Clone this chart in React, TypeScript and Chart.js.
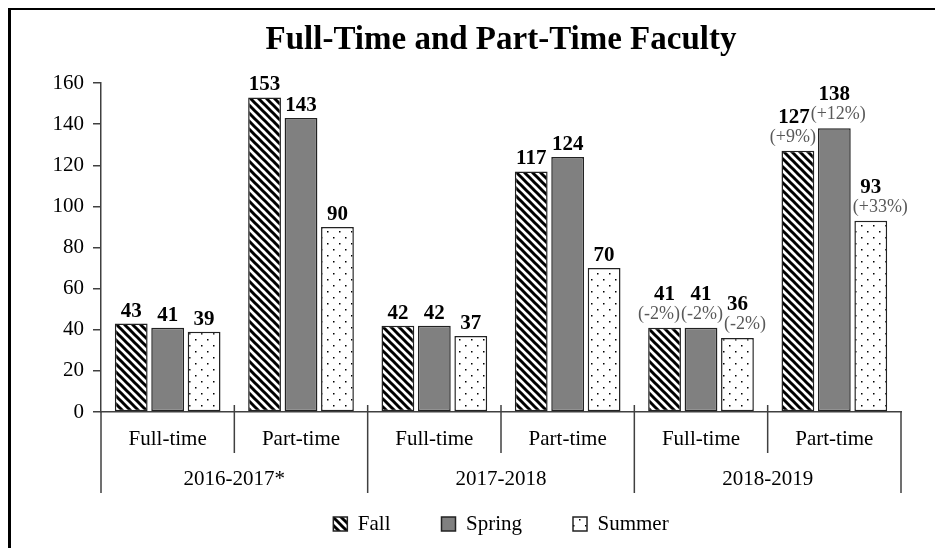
import React, { useEffect, useRef } from 'react';
import { Chart, registerables } from 'chart.js';

Chart.register(...registerables);

const subCategories = ['Full-time', 'Part-time', 'Full-time', 'Part-time', 'Full-time', 'Part-time'];
const yearGroups = ['2016-2017*', '2017-2018', '2018-2019'];
const fallValues = [43, 153, 42, 117, 41, 127];
const springValues = [41, 143, 42, 124, 41, 138];
const summerValues = [39, 90, 37, 70, 36, 93];
const fallChange = ['', '', '', '', '(-2%)', '(+9%)'];
const springChange = ['', '', '', '', '(-2%)', '(+12%)'];
const summerChange = ['', '', '', '', '(-2%)', '(+33%)'];
const seriesNames = ['Fall', 'Spring', 'Summer'];
const yMin = 0;
const yMax = 160;
const yStep = 20;

const FONT = '"Liberation Serif", "Times New Roman", serif';
const LEGEND_GAP = '\u00A0\u00A0\u00A0\u00A0\u00A0\u00A0';

function makeStripePattern(ctx: CanvasRenderingContext2D): CanvasPattern | string {
  const c = document.createElement('canvas');
  c.width = 8;
  c.height = 8;
  const g = c.getContext('2d');
  if (!g) return '#000';
  g.fillStyle = '#fff';
  g.fillRect(0, 0, 8, 8);
  g.strokeStyle = '#000';
  g.lineWidth = 3;
  for (const x0 of [-8, 0, 8]) {
    g.beginPath();
    g.moveTo(x0 - 2, -2);
    g.lineTo(x0 + 10, 10);
    g.stroke();
  }
  return ctx.createPattern(c, 'repeat') || '#000';
}

function makeDotPattern(ctx: CanvasRenderingContext2D): CanvasPattern | string {
  const c = document.createElement('canvas');
  c.width = 12;
  c.height = 12;
  const g = c.getContext('2d');
  if (!g) return '#fff';
  g.fillStyle = '#fff';
  g.fillRect(0, 0, 12, 12);
  g.fillStyle = '#000';
  g.fillRect(3, 3, 1.5, 1.5);
  g.fillRect(9, 9, 1.5, 1.5);
  return ctx.createPattern(c, 'repeat') || '#fff';
}

const changeLabels = [fallChange, springChange, summerChange];

type Lbl = { text: string; x: number; y: number; font: string; color: string; w: number; di: number; i: number };

const valueLabelPlugin = {
  id: 'valueLabels',
  afterDatasetsDraw(chart: any) {
    const ctx: CanvasRenderingContext2D = chart.ctx;
    const labels: Lbl[] = [];
    const bars: { di: number; i: number; left: number; right: number; top: number }[] = [];
    const valueFont = `bold 21px ${FONT}`;
    const changeFont = `18px ${FONT}`;
    chart.data.datasets.forEach((ds: any, di: number) => {
      const meta = chart.getDatasetMeta(di);
      meta.data.forEach((bar: any, i: number) => {
        bars.push({ di, i, left: bar.x - bar.width / 2, right: bar.x + bar.width / 2, top: bar.y });
        const v = ds.data[i];
        const change = changeLabels[di][i];
        let y = bar.y - 7;
        if (change) {
          y = bar.y - 9;
          ctx.font = changeFont;
          labels.push({ text: change, x: bar.x, y, font: changeFont, color: '#595959', w: ctx.measureText(change).width, di, i });
          y -= 19;
        }
        ctx.font = valueFont;
        const t = String(v);
        labels.push({ text: t, x: bar.x, y, font: valueFont, color: '#000', w: ctx.measureText(t).width, di, i });
      });
    });
    // keep labels clear of neighbouring bars
    for (const l of labels) {
      for (const b of bars) {
        if (b.di === l.di && b.i === l.i) continue;
        if (l.y + 4 <= b.top) continue;
        const lLeft = l.x - l.w / 2;
        const lRight = l.x + l.w / 2;
        if (lRight > b.left && lLeft < b.right) {
          if (l.x < (b.left + b.right) / 2) l.x -= lRight - b.left + 2;
          else l.x += b.right - lLeft + 2;
        }
      }
    }
    // simple collision avoidance between neighbouring labels on the same line
    for (let iter = 0; iter < 6; iter++) {
      for (let a = 0; a < labels.length; a++) {
        for (let b = 0; b < labels.length; b++) {
          if (a === b) continue;
          const A = labels[a];
          const B = labels[b];
          if (A.x > B.x || (A.x === B.x && a > b)) continue;
          if (Math.abs(A.y - B.y) >= 14) continue;
          const overlap = A.x + A.w / 2 - (B.x - B.w / 2) + 1;
          if (overlap > 0) {
            A.x -= overlap / 2;
            B.x += overlap / 2;
          }
        }
      }
    }
    ctx.save();
    ctx.textAlign = 'center';
    ctx.textBaseline = 'alphabetic';
    for (const l of labels) {
      ctx.font = l.font;
      ctx.fillStyle = l.color;
      ctx.fillText(l.text, l.x, l.y);
    }
    ctx.restore();
  },
};

const separatorPlugin = {
  id: 'groupSeparators',
  afterDraw(chart: any) {
    const ctx: CanvasRenderingContext2D = chart.ctx;
    const xs = chart.scales.x;
    const x2 = chart.scales.x2;
    const area = chart.chartArea;
    const n = subCategories.length;
    const perGroup = n / yearGroups.length;
    ctx.save();
    ctx.strokeStyle = '#404040';
    ctx.lineWidth = 1.5;
    for (let i = 0; i <= n; i++) {
      const px = xs.getPixelForValue(i - 0.5);
      const isGroup = i % perGroup === 0;
      const outer = i === 0 || i === n;
      const top = outer ? area.bottom : area.bottom - 7;
      const bottom = isGroup ? x2.bottom - 1 : xs.bottom - 1;
      ctx.beginPath();
      ctx.moveTo(px, top);
      ctx.lineTo(px, bottom);
      ctx.stroke();
    }
    ctx.restore();
  },
};

export default function App() {
  const canvasRef = useRef<HTMLCanvasElement | null>(null);

  useEffect(() => {
    const canvas = canvasRef.current;
    if (!canvas) return;
    const ctx = canvas.getContext('2d');
    if (!ctx) return;

    const stripe = makeStripePattern(ctx);
    const dots = makeDotPattern(ctx);

    const chart = new Chart(canvas, {
      type: 'bar',
      data: {
        labels: subCategories,
        datasets: [
          {
            label: seriesNames[0],
            data: fallValues,
            backgroundColor: stripe as any,
            borderColor: '#222',
            borderWidth: 1.5,
            borderSkipped: false,
          },
          {
            label: seriesNames[1],
            data: springValues,
            backgroundColor: '#808080',
            borderColor: '#222',
            borderWidth: 1.5,
            borderSkipped: false,
          },
          {
            label: seriesNames[2],
            data: summerValues,
            backgroundColor: dots as any,
            borderColor: '#222',
            borderWidth: 1.5,
            borderSkipped: false,
          },
        ],
      },
      options: {
        responsive: false,
        animation: false,
        devicePixelRatio: 1,
        categoryPercentage: 0.82,
        barPercentage: 0.9,
        layout: { padding: { top: 0, left: 0, right: 34, bottom: 3.5 } },
        font: { family: FONT },
        scales: {
          x: {
            type: 'category',
            position: 'bottom',
            offset: true,
            grid: { display: false, drawTicks: false, tickLength: 0 },
            border: { display: true, color: '#404040', width: 1.5 },
            ticks: {
              font: { family: FONT, size: 21 },
              color: '#000',
              padding: 15,
              autoSkip: false,
              maxRotation: 0,
            },
            afterFit: (scale: any) => {
              scale.height = 42;
            },
          },
          x2: {
            type: 'category',
            position: 'bottom',
            labels: yearGroups,
            offset: true,
            grid: { display: false, drawTicks: false, tickLength: 0 },
            border: { display: false },
            ticks: {
              font: { family: FONT, size: 21 },
              color: '#000',
              padding: 12.4,
              autoSkip: false,
              maxRotation: 0,
            },
            afterFit: (scale: any) => {
              scale.height = 40;
            },
          },
          y: {
            min: yMin,
            max: yMax,
            ticks: {
              stepSize: yStep,
              font: { family: FONT, size: 21 },
              color: '#000',
              padding: 9,
            },
            grid: {
              display: true,
              drawOnChartArea: false,
              drawTicks: true,
              tickLength: 8,
              color: '#404040',
              lineWidth: 1.5,
            },
            border: { display: true, color: '#404040', width: 1.5 },
            afterFit: (scale: any) => {
              scale.width = 101;
            },
          },
        },
        plugins: {
          title: {
            display: true,
            text: 'Full-Time and Part-Time Faculty',
            fullSize: false,
            color: '#000',
            font: { family: FONT, size: 33, weight: 'bold' },
            padding: { top: 20.2, bottom: 23.2 },
          },
          legend: {
            display: true,
            position: 'bottom',
            fullSize: false,
            labels: {
              font: { family: FONT, size: 21 },
              color: '#000',
              boxWidth: 14,
              boxHeight: 14,
              padding: 19.5,
              generateLabels: (ch: any) => {
                const items = Chart.defaults.plugins.legend.labels.generateLabels(ch);
                return items.map((it: any, idx: number) => ({
                  ...it,
                  text: idx < items.length - 1 ? it.text + LEGEND_GAP : it.text,
                }));
              },
            },
          },
          tooltip: { enabled: false },
        },
      } as any,
      plugins: [valueLabelPlugin, separatorPlugin],
    });

    return () => {
      chart.destroy();
    };
  }, []);

  return (
    <div
      style={{
        position: 'fixed',
        left: 0,
        top: 0,
        width: 935,
        height: 548,
        overflow: 'hidden',
        background: '#fff',
      }}
    >
      <div
        style={{
          position: 'absolute',
          left: 8,
          top: 8,
          width: 2000,
          height: 2000,
          borderLeft: '3px solid #000',
          borderTop: '2.5px solid #000',
        }}
      />
      <canvas
        ref={canvasRef}
        width={935}
        height={548}
        style={{ position: 'absolute', left: 0, top: 0, width: 935, height: 548 }}
      />
    </div>
  );
}
